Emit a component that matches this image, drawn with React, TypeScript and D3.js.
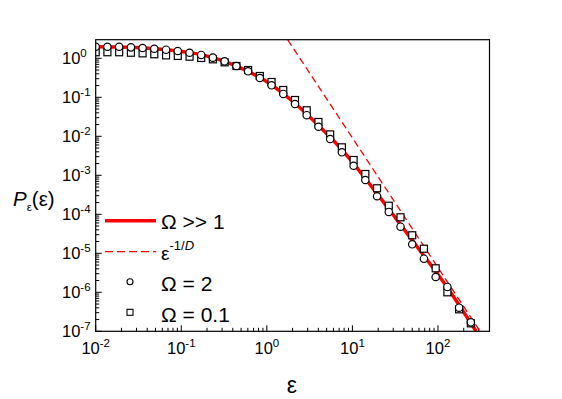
import * as d3 from "d3";

// marker abscissae (shared by both simulated series)
const epsSample = [
  0.01, 0.0137, 0.0188, 0.0258, 0.0353, 0.0484, 0.0664, 0.091, 0.125, 0.171,
  0.234, 0.321, 0.441, 0.604, 0.828, 1.135, 1.556, 2.133, 2.924, 4.009,
  5.495, 7.534, 10.33, 14.16, 19.41, 26.61, 36.48, 50.0, 68.5, 94.0,
  128.8, 176.6, 242.1,
];

// Omega = 2 (circles)
const pOmega2 = [
  1.98, 1.98, 1.98, 1.91, 1.84, 1.76, 1.66, 1.54, 1.39, 1.22,
  1.04, 0.838, 0.635, 0.465, 0.313, 0.203, 0.122, 0.0673, 0.0348, 0.0176,
  8.53e-3, 3.89e-3, 1.76e-3, 7.57e-4, 2.9e-4, 1.15e-4, 4.81e-5, 1.7e-5, 7.28e-6, 2.47e-6,
  1.37e-6, 4.03e-7, 1.7e-7,
];

// Omega = 0.1 (squares)
const pOmega01 = [
  1.43, 1.43, 1.43, 1.39, 1.34, 1.27, 1.19, 1.15, 1.1, 1.02,
  0.942, 0.789, 0.635, 0.501, 0.352, 0.247, 0.154, 0.0853, 0.0465, 0.0233,
  0.0112, 5.22e-3, 2.47e-3, 1.08e-3, 4.65e-4, 1.66e-4, 8.38e-5, 2.9e-5, 1.31e-5, 4.12e-6,
  1.0e-6, 3.66e-7, 1.6e-7,
];

// Omega >> 1 (thick solid curve)
const curveEps = [0.01, 0.025, 0.063, 0.126, 0.251, 0.5, 1, 2, 4, 7.94, 15.85, 31.6, 63.1, 126, 279];
const curveP = [1.98, 1.93, 1.68, 1.4, 1.0, 0.562, 0.251, 0.0794, 0.0191, 3.98e-3, 6.03e-4, 8.32e-5, 1.1e-5, 1.41e-6, 1.0e-7];

// eps^(-1/D) guide
const powerEps = [1.75, 310];
const powerP = [3.0, 1.0e-7];

const xTicks = [1e-2, 1e-1, 1e0, 1e1, 1e2];
const yTicks = [1e0, 1e-1, 1e-2, 1e-3, 1e-4, 1e-5, 1e-6, 1e-7];

const W = 562;
const H = 399;
const left = 95.7, right = 489.5, top = 39.7, bottom = 331.3;
const font = "'Liberation Sans', Arial, sans-serif";
const RED = "#ff0000";

export default function App() {
  const x = d3.scaleLog().domain([0.01, 400]).range([left, right]);
  const y = d3.scaleLog().domain([1e-7, 3]).range([bottom, top]);

  const line = d3
    .line<number>()
    .x((_, i) => x(curveEps[i]))
    .y((d) => y(d))
    .curve(d3.curveMonotoneX);

  const powerLine = d3
    .line<number>()
    .x((_, i) => x(powerEps[i]))
    .y((d) => y(d));

  // minor ticks 2..9 in each decade
  const xMinor: number[] = [];
  for (let e = -2; e <= 2; e++)
    for (let m = 2; m <= 9; m++) {
      const v = m * Math.pow(10, e);
      if (v < 400) xMinor.push(v);
    }
  const yMinor: number[] = [];
  for (let e = -7; e <= 0; e++)
    for (let m = 2; m <= 9; m++) {
      const v = m * Math.pow(10, e);
      if (v < 3) yMinor.push(v);
    }

  const exp = (v: number) => String(Math.round(Math.log10(v)));

  return (
    <svg
      width={W}
      height={H}
      style={{ position: "absolute", left: 0, top: 0, background: "#fff" }}
      fontFamily={font}
    >
      <defs>
        <clipPath id="plot">
          <rect x={left} y={top} width={right - left} height={bottom - top} />
        </clipPath>
      </defs>

      {/* ticks, inside */}
      {xTicks.map((t) => (
        <line key={"xt" + t} x1={x(t)} x2={x(t)} y1={bottom} y2={bottom - 6} stroke="#000" strokeWidth={1} />
      ))}
      {xMinor.map((t) => (
        <line key={"xm" + t} x1={x(t)} x2={x(t)} y1={bottom} y2={bottom - 3.5} stroke="#000" strokeWidth={1} />
      ))}
      {yTicks.map((t) => (
        <line key={"yt" + t} x1={left} x2={left + 6} y1={y(t)} y2={y(t)} stroke="#000" strokeWidth={1} />
      ))}
      {yMinor.map((t) => (
        <line key={"ym" + t} x1={left} x2={left + 3.5} y1={y(t)} y2={y(t)} stroke="#000" strokeWidth={1} />
      ))}

      {/* tick labels */}
      {xTicks.map((t) => (
        <text key={"xl" + t} x={x(t)} y={354} textAnchor="middle" fontSize={16.5} fill="#000">
          <tspan>10</tspan>
          <tspan dy={-7} fontSize={11.5}>{exp(t)}</tspan>
        </text>
      ))}
      {yTicks.map((t) => (
        <text key={"yl" + t} x={62} y={y(t) + 6} fontSize={16.5} fill="#000">
          <tspan>10</tspan>
          <tspan dy={-7} fontSize={11.5}>{exp(t)}</tspan>
        </text>
      ))}

      {/* curves */}
      <g clipPath="url(#plot)">
        <path d={powerLine(powerP) || ""} fill="none" stroke={RED} strokeWidth={1.3} strokeDasharray="7,4" />
        <path d={line(curveP) || ""} fill="none" stroke={RED} strokeWidth={3.5} />
        {epsSample.map((e, i) => (
          <rect
            key={"sq" + i}
            x={x(e) - 3.5}
            y={y(pOmega01[i]) - 3.5}
            width={7}
            height={7}
            fill="#fff"
            stroke="#000"
            strokeWidth={1.2}
          />
        ))}
        {epsSample.map((e, i) => (
          <circle key={"c" + i} cx={x(e)} cy={y(pOmega2[i])} r={3.7} fill="#fff" stroke="#000" strokeWidth={1.2} />
        ))}
      </g>

      {/* frame */}
      <rect x={left} y={top} width={right - left} height={bottom - top} fill="none" stroke="#000" strokeWidth={1.2} />

      {/* legend */}
      <line x1={105} x2={156} y1={220.7} y2={220.7} stroke={RED} strokeWidth={3.5} />
      <text x={161} y={229.3} fontSize={21} fill="#000">Ω &gt;&gt; 1</text>

      <line x1={105} x2={156} y1={251.7} y2={251.7} stroke={RED} strokeWidth={1.3} strokeDasharray="8,4" />
      <text x={161} y={260} fontSize={19} fill="#000">
        ε<tspan dy={-10} fontSize={13}>-1/</tspan>
        <tspan fontSize={13} fontStyle="italic">D</tspan>
      </text>

      <circle cx={130} cy={281.7} r={3} fill="#fff" stroke="#000" strokeWidth={1.1} />
      <text x={161} y={291} fontSize={21} fill="#000">Ω = 2</text>

      <rect x={127} y={309.3} width={6} height={6} fill="#fff" stroke="#000" strokeWidth={1.1} />
      <text x={161} y={321.7} fontSize={21} fill="#000">Ω = 0.1</text>

      {/* axis titles */}
      <text x={13} y={206} fontSize={20.5} fill="#000">
        <tspan fontStyle="italic">P</tspan>
        <tspan dy={5} fontSize={11.5}>ε</tspan>
        <tspan dy={-5} fontSize={20.5}>(ε)</tspan>
      </text>
      <text x={292} y={393} textAnchor="middle" fontSize={23} fill="#000">ε</text>
    </svg>
  );
}
